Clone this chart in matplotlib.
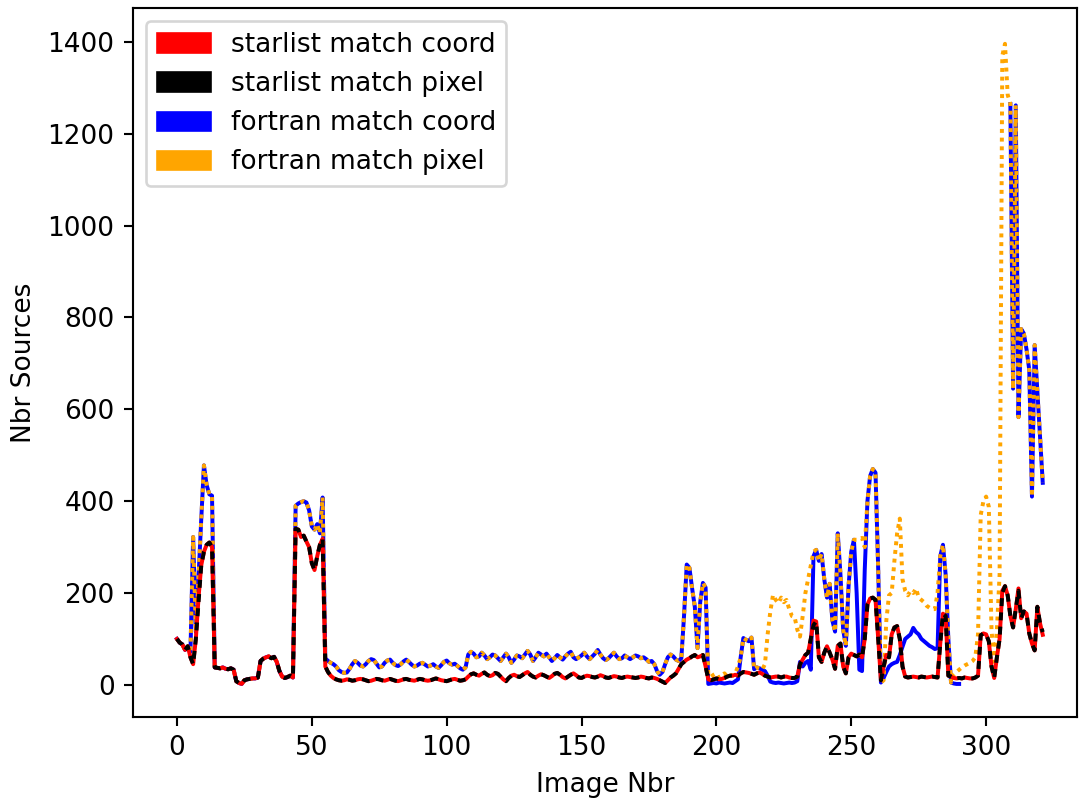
import numpy as np
import matplotlib
matplotlib.use('Agg')
import matplotlib.pyplot as plt
import matplotlib.patches as mpatches

nan = np.nan

# number of sources found per image
fortran_coord = np.array(
    [100, 92, 88, 76, 84, 72, 322, 115, 235, 360, 478, 435, 415, 412, 38]
    + [37, 36, 38, 35, 34, 36, 33]
    + [8, 4, 2, 10, 12, 13, 14, 14, 16]
    + [52, 57, 60, 62, 58, 61, 50, 30, 18, 15, 17, 20, 16]
    + [390, 395, 398, 400, 397, 380, 345, 338, 350, 330, 408]
    + [58, 52, 48, 45, 40, 32, 28, 26, 27, 35, 45, 52]
    + [48, 42, 40, 45, 52, 56, 54, 46, 38, 40, 48, 53, 55, 48, 43, 41, 45, 51, 55, 50,
       44, 40, 42, 46, 48, 44, 40, 42, 45, 40, 37, 43, 50, 53, 47, 44, 46, 41, 36, 33, 38]
    + [66, 72, 68, 60, 62, 70, 64, 56, 60, 66, 64, 58, 52, 60, 68, 60, 48, 55, 64, 62,
       58, 66, 74, 66, 52, 60, 70, 66, 62, 68, 60, 52, 58, 65, 60, 55, 62, 68, 72, 60,
       56, 60, 64, 70, 62, 56, 62, 68, 76, 66, 58, 54, 58, 64, 70, 62, 56, 58, 64, 60,
       56, 60, 64, 62, 58, 60, 56, 50, 52, 45]
    + [30, 22, 28, 45, 60, 66, 62, 55, 52, 58, 150, 262, 255, 210, 170, 80, 180, 222, 212]
    + [2, 3, 4, 3, 5, 4, 3, 4, 5, 4, 8, 12, 60, 102, 98, 95, 103, 34, 38, 36,
       33, 30, 20, 7, 5, 4, 5, 4, 3, 4, 5, 4, 5, 8, 50, 40, 48, 52, 33, 280]
    + [294, 270, 285, 230, 190, 220, 140, 116, 330, 240, 120, 85, 215, 290, 316, 200, 33, 30,
       250, 400, 455, 470, 462, 250, 5, 15, 28, 40, 45, 48, 50, 65, 83, 100, 105, 110,
       124, 115, 110, 100, 95, 90, 85, 82, 78, 80, 280, 305, 240, 100, 5, 3, 2, 2]
    + [nan] * 18
    + [1265, 645, 1262, 583, 775, 765, 730, 686, 410, 740, 640, 540, 440],
    dtype=float)

# fortran pixel match: same as coord match except for these images
fortran_pixel = fortran_coord.copy()
fortran_pixel[197:209] = [20, 18, 22, 25, 15, 20, 25, 18, 22, 20, 25, 40]
fortran_pixel[218:237] = [45, 110, 160, 196, 185, 178, 190, 180, 185, 165,
                          150, 148, 120, 105, 150, 200, 230, 260, 290]
fortran_pixel[252:256] = [316, 318, 320, 300]
fortran_pixel[262:291] = [10, 140, 195, 200, 270, 330, 362, 230, 205, 195, 205, 200, 210,
                          190, 185, 180, 172, 168, 165, 165, 200, 280, 305, 240, 100, 5,
                          22, 28, 33]
fortran_pixel[291:309] = [38, 42, 45, 48, 52, 60, 110, 370, 400, 410, 388, 120, 50, 120,
                          240, 1370, 1396, 1285]

starlist_coord = np.array(
    [100, 92, 88, 76, 84, 60, 45, 100, 190, 260, 290, 305, 310, 300, 38]
    + [37, 36, 38, 35, 34, 36, 33, 8, 4, 2, 10, 12, 13, 14, 14, 16]
    + [52, 57, 60, 62, 58, 61, 50, 30, 18, 15, 17, 20, 16]
    + [340, 338, 322, 325, 312, 300, 265, 250, 280, 305, 318]
    + [40, 28, 20, 15, 12, 10, 9, 10, 12, 11, 9, 10, 12, 13, 12, 10, 8, 9, 11, 13,
       12, 10, 9, 11, 13, 11, 9, 8, 10, 12, 13, 11, 10, 9, 11, 13, 12, 10, 9, 10,
       12, 14, 12, 10, 9, 8, 10, 12, 13, 11, 9, 10, 12]
    + [18, 23, 25, 22, 20, 24, 27, 22, 19, 21, 26, 24, 18, 12, 8, 15, 20, 22, 19, 17,
       21, 25, 28, 22, 18, 16, 20, 23, 21, 18, 15, 19, 24, 26, 22, 17, 14, 18, 22, 25,
       21, 16, 15, 18, 20, 19, 17, 16, 18, 21, 19, 16, 15, 17, 19, 18, 16, 15, 17, 18,
       17, 16, 15, 16, 18, 17, 15, 14, 16, 15, 13]
    + [10, 7, 4, 10, 16, 20, 25, 35, 45, 50, 55, 58, 62, 65, 60, 62, 65, 40]
    + [12, 10, 12, 14, 12, 13, 15, 18, 20, 20, 22, 20, 25, 28, 27, 26, 24, 22, 25, 27,
       24, 20, 18, 16, 17, 18, 18, 16, 18, 18, 16]
    + [15, 15, 18, 45, 55, 65, 70, 100, 140, 138, 60, 50, 70, 84, 70, 55, 35, 85, 90, 40,
       25, 60, 68, 65, 62, 66, 60, 100, 175, 188, 190, 185, 100, 10, 40, 65, 60, 110, 125,
       128, 100, 40, 18, 16, 17, 18, 17, 16, 18, 17, 16, 17, 18, 17, 16, 90, 155, 150, 20]
    + [18, 15, 14, 15, 14, 16, 15, 14, 14, 16, 20, 108, 112, 110, 95, 40, 15, 60, 100, 205,
       215, 195, 150, 125, 165, 210, 145, 160, 155, 112, 90, 75, 170, 134, 109],
    dtype=float)

# starlist pixel match: nearly identical to coord match
starlist_pixel = starlist_coord.copy()
starlist_pixel[[8, 236, 306, 312, 321]] = [180, 130, 200, 205, 115]

image_nbr = np.arange(len(fortran_coord))

fig = plt.figure(figsize=(1080 / 190, 799 / 190), dpi=190)
ax = fig.add_axes([133 / 1080, 82 / 799, 944 / 1080, 709 / 799])

ax.plot(image_nbr, fortran_coord, '-', color='blue', lw=1.5)
ax.plot(image_nbr, fortran_pixel, ':', color='orange', lw=1.5, dashes=(1, 1.2))
ax.plot(image_nbr, starlist_coord, '-', color='red', lw=1.5)
ax.plot(image_nbr, starlist_pixel, '--', color='black', lw=1.5, dashes=(2, 1.6))

ax.set_xlim(-16.3, 333.7)
ax.set_ylim(-70, 1474)
ax.set_xlabel('Image Nbr')
ax.set_ylabel('Nbr Sources')

handles = [mpatches.Patch(color='red', label='starlist match coord'),
           mpatches.Patch(color='black', label='starlist match pixel'),
           mpatches.Patch(color='blue', label='fortran match coord'),
           mpatches.Patch(color='orange', label='fortran match pixel')]
ax.legend(handles=handles, loc='upper left')

fig.savefig('out.png', dpi=190)
